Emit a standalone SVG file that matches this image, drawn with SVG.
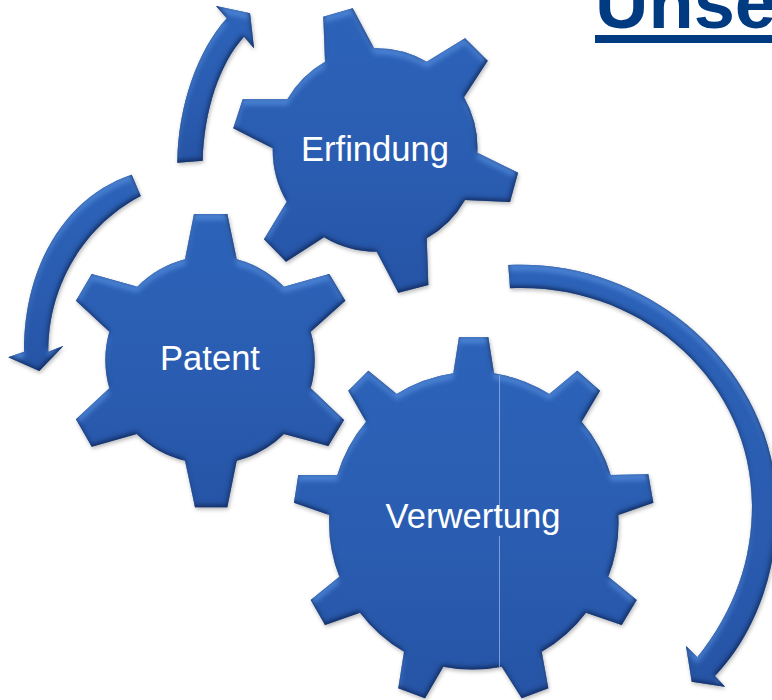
<svg xmlns="http://www.w3.org/2000/svg" width="772" height="700" viewBox="0 0 772 700">
<style>
.shape{fill:url(#blue);filter:url(#bevel)}
.label{font-family:"Liberation Sans",Arial,sans-serif;font-size:34.6px;fill:#fff;text-anchor:middle}
.title{font-family:"Liberation Sans",Arial,sans-serif;font-size:74px;font-weight:bold;fill:#003a80}
</style>
<defs>
<linearGradient id="blue" x1="0" y1="0" x2="0" y2="1">
<stop offset="0" stop-color="#2c63b9"/>
<stop offset="0.55" stop-color="#2a5db1"/>
<stop offset="1" stop-color="#2654a6"/>
</linearGradient>
<filter id="bevel" x="-8%" y="-8%" width="116%" height="116%" color-interpolation-filters="sRGB">
<feGaussianBlur in="SourceAlpha" stdDeviation="2.6" result="b"/>
<feOffset in="b" dy="6" result="bd"/>
<feOffset in="b" dx="-1.5" dy="-2" result="bu"/>
<feComposite in="SourceAlpha" in2="bd" operator="out" result="topBand"/>
<feFlood flood-color="#4f86d8" flood-opacity="0.9"/>
<feComposite in2="topBand" operator="in" result="hi"/>
<feComposite in="SourceAlpha" in2="bu" operator="out" result="botBand"/>
<feFlood flood-color="#10295c" flood-opacity="1"/>
<feComposite in2="botBand" operator="in" result="lo"/>
<feGaussianBlur in="SourceAlpha" stdDeviation="2"/>
<feOffset dx="1" dy="2"/>
<feComponentTransfer result="sh"><feFuncA type="linear" slope="0.3"/></feComponentTransfer>
<feMerge><feMergeNode in="sh"/><feMergeNode in="SourceGraphic"/><feMergeNode in="hi"/><feMergeNode in="lo"/></feMerge>
</filter>
</defs>
<rect width="772" height="700" fill="#fff"/>
<g id="title">
<text class="title" x="595" y="27.5">Unse</text>
<rect x="595" y="35" width="177" height="8" fill="#003a80"/>
</g>
<g id="connectors">
<path class="shape" d="M177.3,162.7C178,105 198,50 226.7,18.3L216,6L250,13.3L254,48.3L244,36.7C220,63 204,110 202.7,160.7Z"/>
<path class="shape" d="M131.7,174.7C70,195 24,260 24,351.7L8.3,357.3L39.3,371L63.3,346L48.3,351.7C48,285 85,225 140.7,196Z"/>
<path class="shape" d="M508.3,265C650,258 777,370 777,510C777,580 750,640 715,676L725,686.7L691.7,681.7L686,646L697.3,657.3C735,610 752,560 752,505C752,380 640,282 510,288.3Z"/>
</g>
<g id="erfindung">
<path class="shape" d="M325,61.7L323.3,16.7L352.7,8.3L374,48.3A102,102 0 0 1 426.7,61.7L465,38.3L487.7,60.7L464,97.3A103,103 0 0 1 477.3,152.7L518,172.7L510,202L465,200A103,103 0 0 1 426.7,238.3L428.3,285L398.3,292.7L376.7,251.7A103,103 0 0 1 324,237.3L286,261.7L264,239.3L286.7,201.7A103,103 0 0 1 272.7,148.3L233.3,128.3L242.7,99.3L287.3,99.3A103,103 0 0 1 325,61.7Z"/>
<text class="label" x="375" y="161">Erfindung</text>
</g>
<g id="patent">
<path class="shape" d="M185,259.3L194,214L227.3,214L236.7,259.3A105,105 0 0 1 284,286.7L329.3,274L345.3,300.7L310.7,331.7A105,105 0 0 1 310.7,388.3L344,420L328.3,446L284,434A105,105 0 0 1 236.7,460.7L227.3,507.3L195,507.3L185,460.7A105,105 0 0 1 136.7,434L91.7,446.7L76,419.3L109.3,388.3A105,105 0 0 1 109.3,331.7L76,300.7L91.7,274L137.3,286.7A105,105 0 0 1 185,259.3Z"/>
<text class="label" x="210" y="370">Patent</text>
</g>
<g id="verwertung">
<path class="shape" d="M453.3,373.3L459,337.3L488.3,337.3L494,373.3A149,149 0 0 1 549.3,394L577.3,370.7L600,390.7L581.7,421.7A149,149 0 0 1 610.7,475L648.3,474.3L653.3,502.7L618.3,515A149,149 0 0 1 608.3,576.7L636.7,600L621.7,625L586,612.7A149,149 0 0 1 541.7,651.7L548.3,688.3L521.7,698.3L501.7,666.7A149,149 0 0 1 443.3,666.7L425,698.3L398.3,688.3L404,651.7A149,149 0 0 1 360,612.7L325,625L310.7,600L339.3,576.7A149,149 0 0 1 329.3,515L294,502.7L298.3,475L337.3,475A149,149 0 0 1 366,421.7L348.3,390.7L368.3,370.7L396.7,394A149,149 0 0 1 453.3,373.3Z"/>
<path d="M499.5,375V528M499.5,536V667" stroke="#8fb0e0" stroke-width="0.8" fill="none"/>
<text class="label" x="473" y="528">Verwertung</text>
</g>
</svg>
